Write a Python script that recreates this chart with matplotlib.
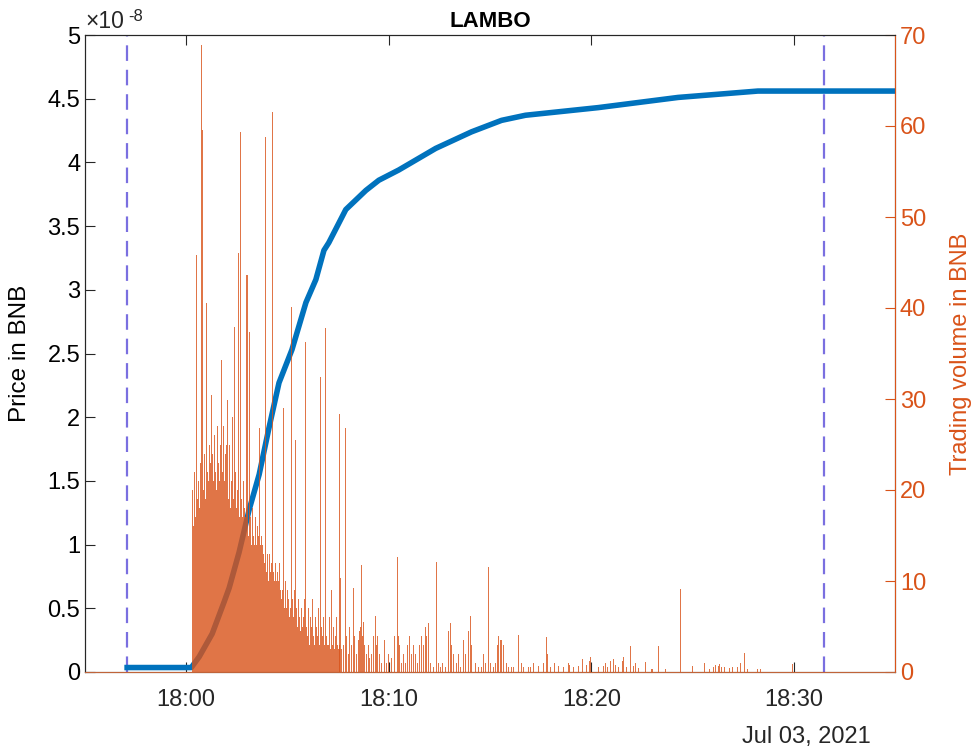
import datetime as dt
import matplotlib
matplotlib.use('Agg')
import matplotlib.pyplot as plt
import matplotlib.dates as mdates

# Token launch of LAMBO on Jul 03, 2021. Times are minutes after 18:00.
day_start = dt.datetime(2021, 7, 3, 18, 0, 0)

# price curve (in units of 1e-8 BNB)
price_min = [-2.92, 0.25, 0.64, 1.28, 1.87, 2.12, 2.61, 3.10, 3.60, 4.09, 4.58, 5.22, 5.91,
             6.40, 6.80, 7.04, 7.88, 8.87, 9.51, 10.49, 12.32, 14.09, 15.57, 16.75,
             20.34, 24.29, 28.23, 35.0]
price_e8 = [0.035, 0.035, 0.12, 0.30, 0.55, 0.66, 0.94, 1.27, 1.55, 1.92, 2.27, 2.53, 2.90,
            3.08, 3.31, 3.37, 3.63, 3.78, 3.86, 3.94, 4.11, 4.24, 4.33, 4.37,
            4.43, 4.51, 4.56, 4.56]

# volume per block (3 s blocks) during the first rush, starting 18:00:18
rush_start_min = 0.3
block_min = 0.05
rush_vol = [20, 16, 22, 17, 45.8, 19, 21, 18, 23, 68.9, 59.6, 20, 24, 19, 40.5, 22, 21, 25,
            23, 30.4, 24, 21, 26, 22, 20, 27, 23, 21, 25, 34.3, 22, 27, 21, 24, 25, 29.9,
            19, 25, 18, 21, 28, 19, 37.9, 22, 18, 20, 46, 17, 59.3, 19, 17, 21, 18, 17,
            43.6, 15, 37.4, 17, 14, 18, 15, 14, 17, 14, 16, 15, 26.8, 14, 15, 14, 13, 12,
            58.8, 11, 13, 10, 13, 11, 12, 61.5, 11, 10, 12, 10, 11, 10, 12, 9, 8, 9, 29, 7,
            10, 7, 9, 8, 6, 7, 40.1, 8, 6, 9, 25.5, 7, 5, 8, 6, 4.5, 7, 5, 6, 8, 36.3, 5,
            4, 7, 3, 6, 5, 8, 4, 3, 6, 5, 4, 7, 3, 32.4, 5, 4, 6, 3, 37.8, 4, 3, 6, 2.5,
            9, 3, 5, 2.5, 4, 6, 3, 2.5, 28.4]

# later trades
late_min = [7.59, 7.64, 7.68, 7.78, 7.88, 7.93, 8.03, 8.08, 8.18, 8.28, 8.33, 8.42, 8.52,
            8.57, 8.62, 8.67, 8.72, 8.77, 8.82, 8.92, 9.01, 9.06, 9.16, 9.26, 9.36, 9.41,
            9.46, 9.56, 9.66, 9.80, 9.90, 10.00, 10.15, 10.30, 10.44, 10.49, 10.54, 10.64,
            10.74, 10.84, 10.94, 11.03, 11.13, 11.23, 11.33, 11.43, 11.53, 11.63, 11.72,
            11.82, 11.87, 11.97, 12.07, 12.22, 12.36, 12.46, 12.56, 12.66, 12.81, 12.96,
            13.05, 13.10, 13.20, 13.35, 13.45, 13.55, 13.69, 13.79, 13.94, 14.04, 14.09,
            14.29, 14.43, 14.58, 14.68, 14.78, 14.93, 15.02, 15.17, 15.27, 15.37, 15.42,
            15.52, 15.57, 15.67, 15.81, 15.91, 16.06, 16.16, 16.40, 16.55, 16.65, 16.90,
            17.00, 17.14, 17.39, 17.64, 17.78, 17.83, 17.98, 18.18, 18.37, 18.62, 18.87,
            18.92, 19.11, 19.36, 19.56, 19.75, 19.90, 19.95, 20.34, 20.59, 20.69, 20.79,
            20.94, 21.08, 21.18, 21.33, 21.53, 21.58, 21.72, 21.92, 22.07, 22.17, 22.32,
            22.66, 23.00, 23.30, 23.69, 24.43, 25.02, 25.57, 25.86, 26.06, 26.16, 26.26,
            26.35, 26.45, 26.60, 26.85, 26.99, 27.24, 27.39, 27.59, 27.73, 28.23, 28.37,
            29.95]
late_vol = [3, 10.3, 2.5, 3, 26.8, 4, 2, 5, 3, 9.2, 4, 2, 3.5,
            4.5, 5, 11.8, 4, 5.5, 3, 2, 3, 1.5, 2, 4, 6.1, 3,
            4, 2, 1, 3.5, 1, 2, 1.5, 4, 12.6, 4, 3, 1,
            2, 1, 3, 4, 2, 3, 2, 1, 3, 4, 3,
            5, 4, 5.4, 1, 0.5, 12.1, 1, 0.5, 1, 0.5, 4.5,
            5.4, 3, 2, 1, 2, 0.5, 3.5, 2, 4.5, 6.1, 3,
            1, 0.5, 0.5, 2, 1, 11.5, 1, 0.5, 1, 3, 4,
            3.5, 3.5, 3, 1, 0.5, 0.5, 0.5, 4.1, 1, 0.5, 0.5,
            0.5, 1, 0.7, 1, 3.9, 2, 0.5, 1, 0.7, 0.5, 1,
            0.8, 0.5, 0.7, 1.4, 0.8, 1.2, 1.7, 0.5, 0.7, 1, 0.5,
            1.2, 1.4, 0.8, 0.6, 1.2, 1.7, 0.6, 2.9, 0.7, 1, 0.4,
            1.1, 0.3, 2.9, 0.3, 9.1, 0.7, 1, 0.3, 0.5, 0.8, 0.7,
            0.9, 0.6, 0.5, 0.4, 0.6, 0.5, 1, 2.1, 0.3, 0.3, 0.3,
            0.9]

launch_min = -2.92   # first liquidity
window_end_min = 31.5


def to_time(m):
    return day_start + dt.timedelta(minutes=m)


plt.rcParams['font.family'] = ['Liberation Sans', 'DejaVu Sans']
axis_col = '#262626'
blue = '#0072BD'
orange = '#D95319'
dash_col = '#7A6FE0'

fig = plt.figure(figsize=(9.76, 7.51), dpi=100)
ax = fig.add_axes([85 / 976, 79 / 751, 810 / 976, 637 / 751])

ax.plot([to_time(m) for m in price_min], price_e8, color=blue, lw=4.0, zorder=3,
        solid_joinstyle='round')
for m in (launch_min, window_end_min):
    ax.axvline(to_time(m), color=dash_col, lw=1.6, dashes=(7, 4), zorder=2)

ax.set_ylim(0, 5)
ax.set_yticks([i * 0.5 for i in range(11)])
ax.set_yticklabels(['0', '0.5', '1', '1.5', '2', '2.5', '3', '3.5', '4', '4.5', '5'])
ax.set_xlim(to_time(-5), to_time(35))
ax.xaxis.set_major_locator(mdates.MinuteLocator(byminute=[0, 10, 20, 30]))
ax.xaxis.set_major_formatter(mdates.DateFormatter('%H:%M'))
ax.set_ylabel('Price in BNB', fontsize=17.5, color='black', labelpad=12)
ax.set_title('LAMBO', fontsize=16, fontweight='bold', pad=6)
ax.tick_params(axis='both', direction='in', length=7, labelsize=17, colors=axis_col,
               top=True, width=0.8)
ax.tick_params(axis='y', labelcolor='black')
ax.tick_params(axis='x', pad=12, labelcolor=axis_col)
for s in ('left', 'top'):
    ax.spines[s].set_color(axis_col)

ax2 = ax.twinx()
bar_w = dt.timedelta(seconds=3)
rush_times = [to_time(rush_start_min + i * block_min) for i in range(len(rush_vol))]
ax2.bar(rush_times, rush_vol, width=bar_w, color=orange, alpha=0.8, lw=0, zorder=2)
ax2.bar([to_time(m) for m in late_min], late_vol, width=bar_w, color=orange, alpha=0.8,
        lw=0, zorder=2)
ax2.set_ylim(0, 70)
ax2.set_yticks(range(0, 71, 10))
ax2.set_ylabel('Trading volume in BNB', fontsize=17, color=orange, labelpad=17)
ax2.tick_params(axis='y', direction='in', length=7, labelsize=17, colors=orange, width=0.8)
ax2.spines['right'].set_color(orange)
ax2.spines['bottom'].set_color('#C0643A')
ax2.spines['left'].set_color(axis_col)
ax2.spines['top'].set_color(axis_col)

# MATLAB-style exponent and date labels
ax.text(0.0, 1.003, '\u00d710', transform=ax.transAxes, fontsize=16.5, color=axis_col,
        ha='left', va='bottom')
ax.text(0.054, 1.018, '-8', transform=ax.transAxes, fontsize=12, color=axis_col,
        ha='left', va='bottom')
fig.text(806 / 976, 1 - 737 / 751, 'Jul 03, 2021', fontsize=17, color=axis_col,
         ha='center', va='center')

fig.savefig('out.png', dpi=100)
